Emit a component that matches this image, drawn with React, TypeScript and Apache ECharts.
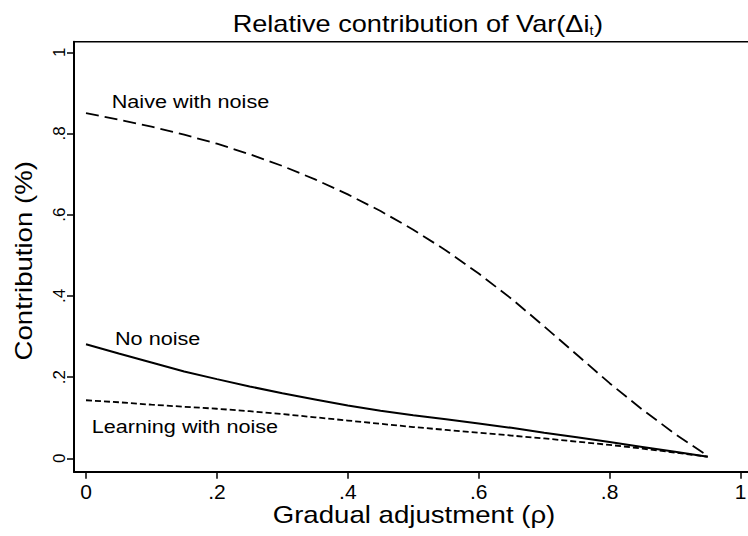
import React, { useEffect, useRef } from "react";
import * as echarts from "echarts";

// Gradual adjustment parameter (rho)
const RHO = [0, 0.05, 0.1, 0.15, 0.2, 0.25, 0.3, 0.35, 0.4, 0.45, 0.5, 0.55, 0.6, 0.65, 0.7, 0.75, 0.8, 0.85, 0.9, 0.95];
// Naive with noise (long dash)
const NAIVE = [0.85, 0.834, 0.817, 0.797, 0.775, 0.749, 0.72, 0.687, 0.65, 0.609, 0.563, 0.512, 0.455, 0.393, 0.325, 0.255, 0.185, 0.12, 0.06, 0.006];
// No noise (solid)
const NO_NOISE = [0.281, 0.258, 0.236, 0.214, 0.195, 0.177, 0.16, 0.145, 0.13, 0.117, 0.106, 0.096, 0.086, 0.075, 0.063, 0.052, 0.04, 0.028, 0.016, 0.004];
// Learning with noise (short dash)
const LEARNING = [0.143, 0.138, 0.132, 0.127, 0.122, 0.116, 0.109, 0.101, 0.093, 0.085, 0.077, 0.07, 0.063, 0.056, 0.049, 0.041, 0.033, 0.024, 0.014, 0.004];

const TICKS = [0, 0.2, 0.4, 0.6, 0.8, 1];
const TICK_LABELS = ["0", ".2", ".4", ".6", ".8", "1"];

const FONT = "'Liberation Sans', Arial, Helvetica, sans-serif";

const fmt = (v: number) => {
  const i = TICKS.findIndex((t) => Math.abs(t - v) < 1e-9);
  return i >= 0 ? TICK_LABELS[i] : String(v);
};

const pairs = (ys: number[]) => RHO.map((x, i) => [x, ys[i]]);

function txt(text: string, x: number, y: number, size: number, opts: any = {}) {
  const align = opts.align || "left";
  return {
    type: "text",
    x,
    y,
    scaleX: opts.scaleX ?? 1,
    scaleY: 1,
    rotation: opts.rotation ?? 0,
    silent: true,
    style: {
      text,
      fontSize: size,
      fontFamily: FONT,
      fill: "#000",
      align,
      textAlign: align,
      verticalAlign: "middle",
      textVerticalAlign: "middle",
    },
  };
}

export default function App() {
  const ref = useRef<HTMLDivElement>(null);
  useEffect(() => {
    if (!ref.current) return;
    const chart = echarts.init(ref.current, undefined, { renderer: "svg" });
    const axisCommon = {
      type: "value",
      splitLine: { show: false },
      axisLine: { show: true, onZero: false, lineStyle: { color: "#000", width: 2 } },
      axisTick: { show: true, length: 7, customValues: TICKS, lineStyle: { color: "#000", width: 1.5 } },
    };
    chart.setOption({
      animation: false,
      backgroundColor: "#fff",
      grid: {
        left: 74,
        top: 41.7,
        width: 678.5,
        height: 430,
        containLabel: false,
        outerBoundsMode: "none",
        show: true,
        borderColor: "#000",
        borderWidth: 1.5,
        backgroundColor: "transparent",
      },
      xAxis: {
        ...axisCommon,
        min: -0.01833,
        max: 1.01833,
        axisLabel: {
          customValues: TICKS,
          formatter: fmt,
          fontSize: 21,
          fontFamily: FONT,
          color: "#000",
          margin: 9,
        },
      },
      yAxis: {
        ...axisCommon,
        min: -0.033,
        max: 1.0261,
        axisLabel: {
          customValues: TICKS,
          formatter: fmt,
          rotate: 90,
          fontSize: 17,
          fontFamily: FONT,
          color: "#000",
          margin: 6,
        },
      },
      series: [
        {
          name: "Naive with noise",
          type: "line",
          data: pairs(NAIVE),
          showSymbol: false,
          smooth: false,
          lineStyle: { color: "#000", width: 1.8, type: [13, 6] },
        },
        {
          name: "No noise",
          type: "line",
          data: pairs(NO_NOISE),
          showSymbol: false,
          smooth: false,
          lineStyle: { color: "#000", width: 2, type: "solid" },
        },
        {
          name: "Learning with noise",
          type: "line",
          data: pairs(LEARNING),
          showSymbol: false,
          smooth: false,
          lineStyle: { color: "#000", width: 1.8, type: [6, 3] },
        },
      ],
      graphic: [
        txt("Relative contribution of Var(\u0394i", 589.5, 23.3, 23, { align: "right", scaleX: 1.18 }),
        txt("t", 589.5, 31, 13, { scaleX: 1.1 }),
        txt(")", 594, 23.3, 23, { scaleX: 1.18 }),
        txt("Gradual adjustment (\u03c1)", 414, 514.7, 24, { align: "center", scaleX: 1.15 }),
        txt("Contribution (%)", 23.4, 260.8, 23, { align: "center", scaleX: 1.2, rotation: Math.PI / 2 }),
        txt("Naive with noise", 111.7, 101.7, 18.5, { scaleX: 1.17 }),
        txt("No noise", 115, 338.4, 18.5, { scaleX: 1.17 }),
        txt("Learning with noise", 91.7, 426.7, 18.5, { scaleX: 1.17 }),
      ],
    });
    return () => chart.dispose();
  }, []);
  return <div ref={ref} style={{ width: 748, height: 536, position: "absolute", left: 0, top: 0 }} />;
}
